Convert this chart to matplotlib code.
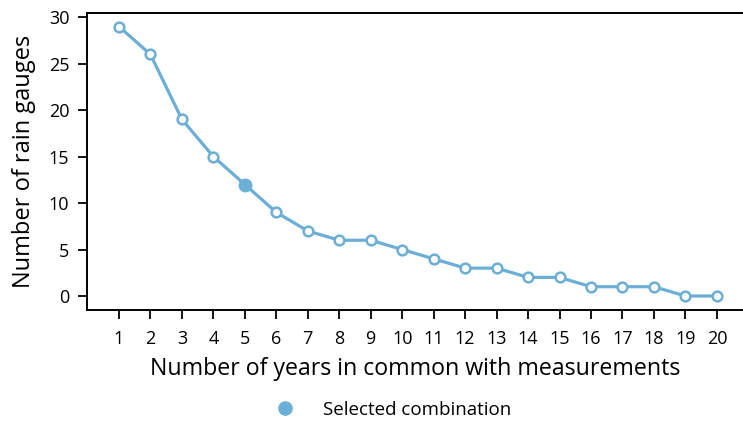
import matplotlib.pyplot as plt
from matplotlib.lines import Line2D

plt.rcParams['font.family'] = ['Open Sans', 'DejaVu Sans']

years = list(range(1, 21))
gauges = [29, 26, 19, 15, 12, 9, 7, 6, 6, 5, 4, 3, 3, 2, 2, 1, 1, 1, 0, 0]
selected_year = 5
selected_gauges = 12

color = '#6baed6'

fig = plt.figure(figsize=(7.43, 4.21), dpi=100)
ax = fig.add_axes([0.1171, 0.2625, 0.8829, 0.7055])

ax.plot(years, gauges, color=color, lw=2.3, marker='o', ms=7,
        mfc='white', mec=color, mew=1.8, zorder=2)
ax.plot([selected_year], [selected_gauges], 'o', color=color, ms=9, zorder=3)

ax.set_xlim(-0.017, 20.83)
ax.set_ylim(-1.56, 30.41)
ax.set_xticks(years)
ax.set_yticks([0, 5, 10, 15, 20, 25, 30])
ax.tick_params(labelsize=13, width=1.3, length=6.2)
ax.tick_params(axis='x', pad=7.5)
ax.tick_params(axis='y', pad=6.5)
ax.spines['right'].set_visible(False)
for s in ax.spines.values():
    s.set_linewidth(1.4)

ax.set_xlabel('Number of years in common with measurements', fontsize=16.7, va='center')
ax.xaxis.set_label_coords(0.5585, 0.1235, transform=fig.transFigure)
ax.set_ylabel('Number of rain gauges', fontsize=17, va='center')
ax.yaxis.set_label_coords(0.0323, 0.616, transform=fig.transFigure)

handle = Line2D([], [], marker='o', color=color, ls='', ms=9.5)
fig.legend([handle], ['Selected combination'], loc='center left',
           bbox_to_anchor=(275.6 / 743, (421 - 410) / 421), frameon=False,
           fontsize=13.5, handlelength=1, handletextpad=1.53,
           borderpad=0, borderaxespad=0)

fig.savefig('out.png', dpi=100)
